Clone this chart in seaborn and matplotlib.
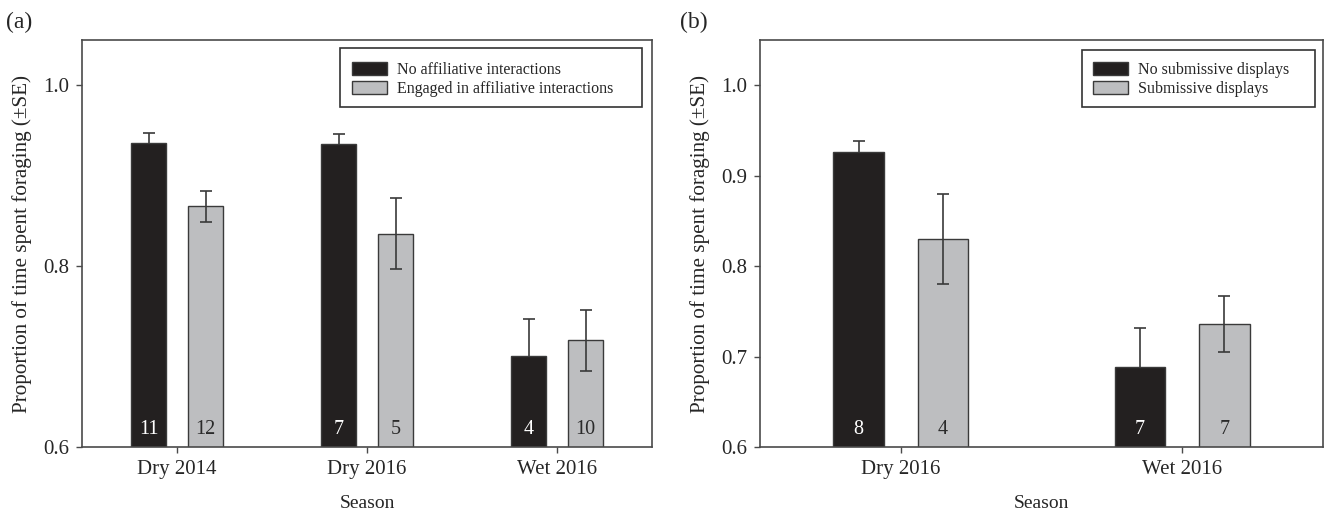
import numpy as np
import pandas as pd
import matplotlib
matplotlib.use("Agg")
import matplotlib.pyplot as plt
from matplotlib.container import BarContainer
from matplotlib.patches import Rectangle
import seaborn as sns

# ---- data ----
seasons_a = ["Dry 2014", "Dry 2016", "Wet 2016"]
groups_a = ["No affiliative interactions", "Engaged in affiliative interactions"]
means_a_no = [0.936, 0.935, 0.701]
means_a_yes = [0.866, 0.836, 0.718]
se_a_no = [0.011, 0.011, 0.041]
se_a_yes = [0.017, 0.039, 0.034]
n_a_no = [11, 7, 4]
n_a_yes = [12, 5, 10]

seasons_b = ["Dry 2016", "Wet 2016"]
groups_b = ["No submissive displays", "Submissive displays"]
means_b_no = [0.926, 0.689]
means_b_yes = [0.830, 0.736]
se_b_no = [0.012, 0.043]
se_b_yes = [0.050, 0.031]
n_b_no = [8, 7]
n_b_yes = [4, 7]

yticks_a = [0.6, 0.8, 1.0]
yticks_b = [0.6, 0.7, 0.8, 0.9, 1.0]

sns.set_theme(style="ticks")
plt.rcParams["font.family"] = ["Liberation Serif", "DejaVu Serif"]

BLACK = "#231f20"
GRAY = "#bcbec0"
EDGE = "#3a3a3a"
SPINE = "#4a4a4a"

fig = plt.figure(figsize=(13.25, 5.11), dpi=100)
axA = fig.add_axes([82/1325, 1-447/511, (652-82)/1325, (447-40)/511])
axB = fig.add_axes([760/1325, 1-447/511, (1323-760)/1325, (447-40)/511])


def panel(ax, seasons, groups, m_no, m_yes, se_no, se_yes, n_no, n_yes, yticks,
          gap, leg_anchor, frame_rect):
    df = pd.DataFrame({
        "Season": seasons * 2,
        "Group": [groups[0]] * len(seasons) + [groups[1]] * len(seasons),
        "value": list(m_no) + list(m_yes),
    })
    sns.barplot(data=df, x="Season", y="value", hue="Group", hue_order=groups,
                palette=[BLACK, GRAY], width=0.6, gap=gap, errorbar=None,
                edgecolor=EDGE, linewidth=1.0, ax=ax, legend=False, zorder=2)
    bar_conts = [c for c in ax.containers if isinstance(c, BarContainer)]
    ses = [se_no, se_yes]
    ns = [n_no, n_yes]
    txtcol = ["white", "#2a2a2a"]
    ezorder = [1, 3]
    for i, cont in enumerate(bar_conts):
        for j, bar in enumerate(cont.patches):
            cx = bar.get_x() + bar.get_width() / 2
            h = bar.get_height()
            ax.errorbar(cx, h, yerr=ses[i][j], fmt="none", ecolor=EDGE,
                        elinewidth=1.2, capsize=4, capthick=1.2, zorder=ezorder[i])
            ax.text(cx, 0.6 + 0.009, str(ns[i][j]), ha="center", va="bottom",
                    color=txtcol[i], fontsize=14.5, zorder=4)
    ax.set_ylim(0.6, 1.05)
    ax.set_xlim(-0.5, len(seasons) - 0.5)
    ax.set_yticks(yticks)
    ax.set_yticklabels([f"{t:.1f}" for t in yticks])
    ax.set_xlabel("Season", fontsize=14, labelpad=12)
    ax.set_ylabel("Proportion of time spent foraging (\u00b1SE)", fontsize=15.2, labelpad=8)
    ax.tick_params(axis="both", labelsize=15, length=4, width=1, color=SPINE,
                   direction="out", pad=5)
    for s in ax.spines.values():
        s.set_visible(True)
        s.set_color(SPINE)
        s.set_linewidth(1.2)
    # legend frame (drawn as a box with extra right padding, as in the reference)
    ax.add_patch(Rectangle(frame_rect[:2], frame_rect[2], frame_rect[3],
                           transform=ax.transAxes, facecolor="white",
                           edgecolor="#333333", linewidth=1.2, zorder=5))
    handles = [bar_conts[0].patches[0], bar_conts[1].patches[0]]
    leg = ax.legend(handles, groups, loc="upper left", fontsize=11.5,
                    frameon=False, borderpad=0, handlelength=2.2,
                    handleheight=0.9, labelspacing=0.15, handletextpad=0.6,
                    borderaxespad=0, bbox_to_anchor=leg_anchor)
    leg.set_zorder(6)


panel(axA, seasons_a, groups_a, means_a_no, means_a_yes, se_a_no, se_a_yes,
      n_a_no, n_a_yes, yticks_a, 0.38,
      ((352 - 82) / 570, 1 - (62 - 40) / 407),
      ((340 - 82) / 570, 1 - (107 - 40) / 407, 302 / 570, 59 / 407))
panel(axB, seasons_b, groups_b, means_b_no, means_b_yes, se_b_no, se_b_yes,
      n_b_no, n_b_yes, yticks_b, 0.4,
      ((1093 - 760) / 563, 1 - (62 - 40) / 407),
      ((1082 - 760) / 563, 1 - (107 - 40) / 407, 233 / 563, 57 / 407))

fig.text(6/1325, 1-22/511, "(a)", fontsize=17, va="center", ha="left")
fig.text(680/1325, 1-22/511, "(b)", fontsize=17, va="center", ha="left")

fig.savefig("out.png", dpi=100)
